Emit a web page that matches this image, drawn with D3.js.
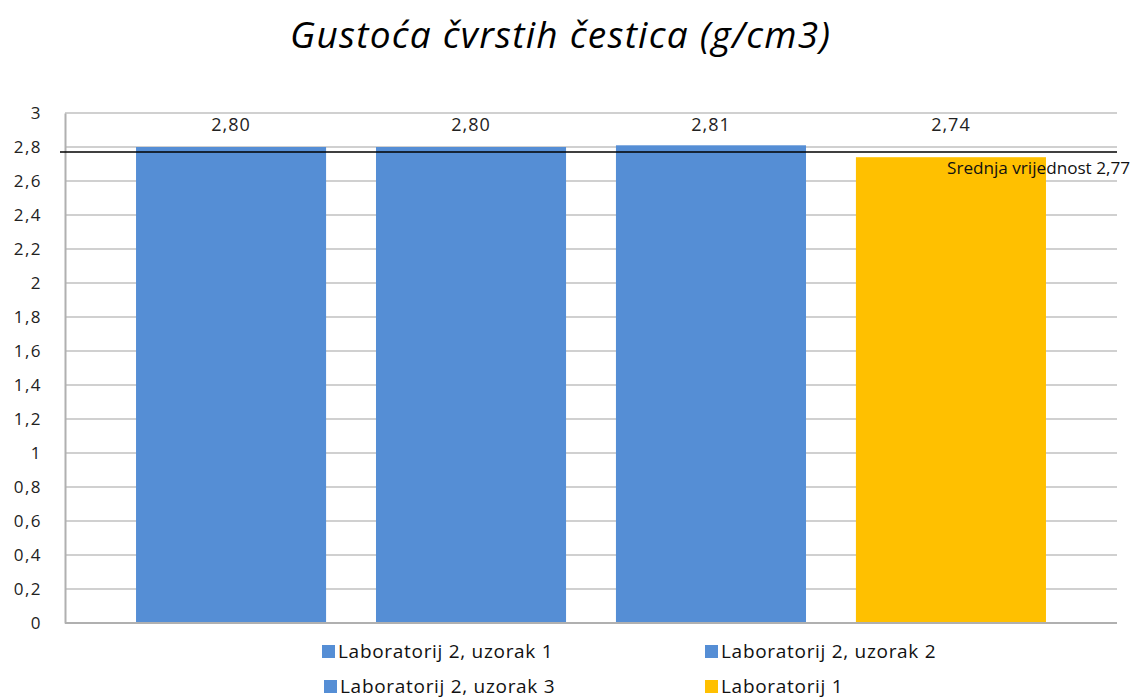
<!DOCTYPE html>
<html>
<head>
<meta charset="utf-8">
<script src="https://cdn.jsdelivr.net/npm/d3@7"></script>
<style>
body { margin: 0; background: #fff; }
svg { display: block; }
</style>
</head>
<body>
<div id="chart"></div>
<script>
// data
var series = ["Laboratorij 2, uzorak 1", "Laboratorij 2, uzorak 2", "Laboratorij 2, uzorak 3", "Laboratorij 1"];
var values = [2.80, 2.80, 2.81, 2.74];
var colors = ["#558ed5", "#558ed5", "#558ed5", "#ffc000"];
var mean = 2.77;
var yTicks = [0, 0.2, 0.4, 0.6, 0.8, 1, 1.2, 1.4, 1.6, 1.8, 2, 2.2, 2.4, 2.6, 2.8, 3];
var title = "Gustoća čvrstih čestica (g/cm3)";

var W = 1132, H = 700;
var margin = {top: 113, right: 15, bottom: 77, left: 65};
var w = W - margin.left - margin.right;
var h = H - margin.top - margin.bottom;

var comma = function(d, dec) { return d.toFixed(dec).replace(".", ","); };

var svg = d3.select("#chart").append("svg")
  .attr("width", W)
  .attr("height", H)
  .style("font-family", "'Open Sans', sans-serif");

// title
svg.append("text")
  .attr("x", 560)
  .attr("y", 48)
  .attr("text-anchor", "middle")
  .attr("textLength", 540)
  .attr("lengthAdjust", "spacing")
  .style("font-size", "37px")
  .style("font-style", "italic")
  .attr("fill", "#000")
  .text(title);

var g = svg.append("g")
  .attr("transform", "translate(" + margin.left + "," + margin.top + ")");

var x = d3.scaleBand()
  .domain(series)
  .range([0, w])
  .paddingInner(0.208)
  .paddingOuter(0.296);

var y = d3.scaleLinear()
  .domain([0, 3])
  .range([h, 0]);

// gridlines
g.selectAll(".grid")
  .data(yTicks.filter(function(d) { return d > 0; }))
  .enter().append("line")
  .attr("x1", 0).attr("x2", w)
  .attr("y1", function(d) { return y(d); })
  .attr("y2", function(d) { return y(d); })
  .attr("stroke", "#d0d0d0")
  .attr("stroke-width", 2);

// bars
g.selectAll(".bar")
  .data(values)
  .enter().append("rect")
  .attr("x", function(d, i) { return x(series[i]); })
  .attr("y", function(d) { return y(d); })
  .attr("width", x.bandwidth())
  .attr("height", function(d) { return h - y(d); })
  .attr("fill", function(d, i) { return colors[i]; });

// value labels
g.selectAll(".val")
  .data(values)
  .enter().append("text")
  .attr("x", function(d, i) { return x(series[i]) + x.bandwidth() / 2; })
  .attr("y", 18)
  .attr("text-anchor", "middle")
  .style("font-size", "18px")
  .style("letter-spacing", "1px")
  .attr("fill", "#222")
  .text(function(d) { return comma(d, 2); });

// y axis
var yAxis = d3.axisLeft(y)
  .tickValues(yTicks)
  .tickSize(0)
  .tickPadding(23)
  .tickFormat(function(d) { return String(+d.toFixed(1)).replace(".", ","); });

var ya = g.append("g").call(yAxis);
ya.select(".domain").attr("stroke", "#b0b0b0").attr("stroke-width", 2);
ya.selectAll("text")
  .style("font-size", "17px")
  .style("letter-spacing", "1.5px")
  .style("font-family", "'Open Sans', sans-serif")
  .attr("fill", "#222");

// x baseline
g.append("line")
  .attr("x1", 0).attr("x2", w)
  .attr("y1", h).attr("y2", h)
  .attr("stroke", "#b0b0b0")
  .attr("stroke-width", 2);

// mean line
g.append("line")
  .attr("x1", -5).attr("x2", w)
  .attr("y1", y(mean)).attr("y2", y(mean))
  .attr("stroke", "#000")
  .attr("stroke-width", 1.5);

g.append("text")
  .attr("x", 882)
  .attr("y", y(mean) + 22)
  .attr("textLength", 183)
  .attr("lengthAdjust", "spacingAndGlyphs")
  .style("font-size", "16px")
  .attr("fill", "#111")
  .text("Srednja vrijednost " + comma(mean, 2));

// legend
var legPos = [[322, 658], [705, 658], [324, 693], [705, 693]];
var leg = svg.selectAll(".leg")
  .data(series)
  .enter().append("g")
  .attr("transform", function(d, i) { return "translate(" + legPos[i][0] + "," + legPos[i][1] + ")"; });

leg.append("rect")
  .attr("x", 0).attr("y", -13)
  .attr("width", 13).attr("height", 13)
  .attr("fill", function(d, i) { return colors[i]; });

leg.append("text")
  .attr("x", 16)
  .attr("y", 0)
  .style("font-size", "19px")
  .style("letter-spacing", "0.7px")
  .attr("fill", "#111")
  .text(function(d) { return d; });
</script>
</body>
</html>
